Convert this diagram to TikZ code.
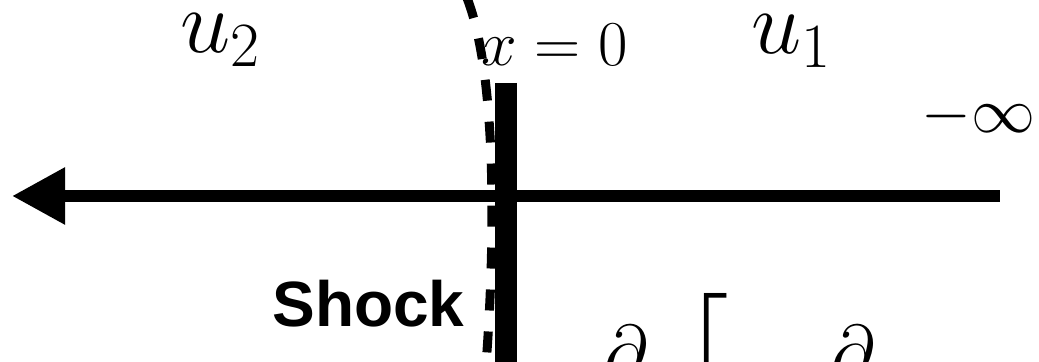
\RequirePackage{fix-cm}
\documentclass[tikz,border=0pt]{standalone}
\usepackage{amsmath, amssymb}
\usepackage{fontspec}
\setsansfont{Liberation Sans}
\usetikzlibrary{arrows.meta}

\begin{document}
\begin{tikzpicture}[x=0.5pt, y=-0.5pt, >={Triangle[length=26.5pt, width=27pt]},
  lbl/.style={inner sep=0pt, anchor=base west},
  bigmath/.style={font=\fontsize{45}{50}\selectfont},
  midmath/.style={font=\fontsize{32}{36}\selectfont},
  cutmath/.style={inner sep=0pt, anchor=north west, font=\fontsize{38}{44}\selectfont}]
  \useasboundingbox (0,0) rectangle (1039,362);
  \clip (0,0) rectangle (1039,362);
  % axis
  \coordinate (tip) at (12,196);
  \coordinate (far) at (1000,196);
  \draw[<-, line width=6pt] (tip) -- (far);
  % shock front
  \coordinate (sTop) at (467,-2);
  \coordinate (sBot) at (486,365);
  \draw[line width=4.5pt, dash pattern=on 10.5pt off 10.5pt] (sTop) .. controls (499,80) and (494,260) .. (sBot);
  \coordinate (barTop) at (506,83);
  \coordinate (barBot) at (506,380);
  \draw[line width=11pt] (barTop) -- (barBot);
  % labels
  \node[lbl, bigmath] (uLeft) at (180,53) {$u_2$};
  \node[lbl, bigmath] (uRight) at (751,54) {$u_1$};
  \node[lbl, midmath] (origin) at (481,66) {$x=0$};
  \node[lbl, midmath] (minf) at (921,133) {$-\infty$};
  \node[lbl, font=\sffamily\bfseries\fontsize{32}{36}\selectfont] (shock) at (272,327) {Shock};
  % equation, cut off at the bottom
  \node[cutmath] (dOne) at (604,325) {$\partial$};
  \node[cutmath] (brk) at (683,293) {$\Bigg[$};
  \node[cutmath] (dTwo) at (831,325) {$\partial$};
\end{tikzpicture}
\end{document}
